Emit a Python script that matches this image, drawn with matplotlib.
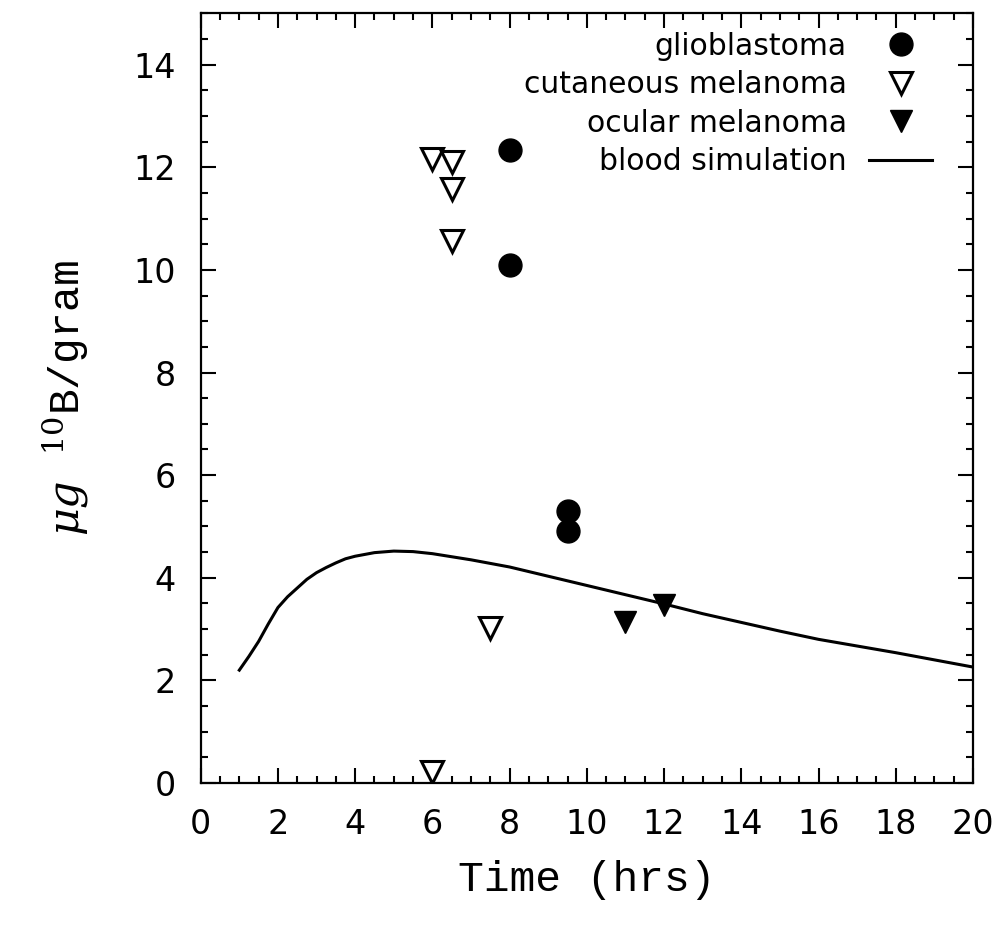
import numpy as np
import matplotlib
matplotlib.use("Agg")
import matplotlib.pyplot as plt
from matplotlib.ticker import MultipleLocator

plt.rcParams["mathtext.fontset"] = "dejavuserif"

# glioblastoma
glio_t = [8.0, 8.0, 9.5, 9.5]
glio_b = [12.33, 10.10, 5.30, 4.91]

# cutaneous melanoma
cut_t = [6.0, 6.5, 6.5, 6.5, 7.5, 6.0]
cut_b = [12.17, 12.1, 11.57, 10.57, 3.02, 0.22]

# ocular melanoma
ocu_t = [11.0, 12.0]
ocu_b = [3.13, 3.46]

# blood simulation curve
sim_t = [1.0, 1.25, 1.5, 1.75, 2.0, 2.25, 2.5, 2.75, 3.0, 3.25, 3.5, 3.75, 4.0, 4.5, 5.0, 5.5,
         6.0, 7.0, 8.0, 9.0, 10.0, 11.0, 12.0, 13.0, 14.0, 15.0, 16.0, 17.0, 18.0, 19.0, 20.0]
sim_b = [2.2, 2.47, 2.76, 3.1, 3.42, 3.63, 3.8, 3.97, 4.1, 4.2, 4.29, 4.37, 4.42, 4.49, 4.52, 4.51,
         4.47, 4.35, 4.21, 4.03, 3.85, 3.67, 3.49, 3.3, 3.13, 2.96, 2.8, 2.67, 2.54, 2.4, 2.26]

label_font = ["Liberation Mono", "DejaVu Sans Mono"]

fig = plt.figure(figsize=(10, 9.26), dpi=100)
ax = fig.add_axes([0.2007, 0.1544, 0.7723, 0.8312])

ax.plot(glio_t, glio_b, "o", color="black", markersize=16.5, linestyle="none", label="glioblastoma")
ax.plot(cut_t, cut_b, "v", markerfacecolor="white", markeredgecolor="black", markeredgewidth=2.2,
        markersize=15.5, linestyle="none", label="cutaneous melanoma")
ax.plot(ocu_t, ocu_b, "v", color="black", markersize=16, linestyle="none", label="ocular melanoma")
ax.plot(sim_t, sim_b, "-", color="black", linewidth=2.2, label="blood simulation")

ax.set_xlim(0, 20)
ax.set_ylim(0, 15)
ax.xaxis.set_major_locator(MultipleLocator(2))
ax.xaxis.set_minor_locator(MultipleLocator(0.5))
ax.yaxis.set_major_locator(MultipleLocator(2))
ax.yaxis.set_minor_locator(MultipleLocator(0.5))
ax.tick_params(which="both", direction="in", top=True, right=True, width=1.5)
ax.tick_params(which="major", length=10.5, labelsize=24, pad=18)
ax.tick_params(which="minor", length=5)
for s in ax.spines.values():
    s.set_linewidth(1.6)

ax.set_xlabel("Time (hrs)", family=label_font, fontsize=31, labelpad=14)
ax.set_ylabel(r"$\mu g$ $^{10}$B/gram", family=label_font, fontsize=31, labelpad=30)

leg = ax.legend(loc="upper right", bbox_to_anchor=(0.947, 0.976), frameon=False, markerfirst=False,
                prop={"family": "DejaVu Sans", "size": 21.5},
                handlelength=2.1, labelspacing=0.32, borderaxespad=0.0, handletextpad=0.75,
                borderpad=0.0)

fig.savefig("out.png", dpi=100)
